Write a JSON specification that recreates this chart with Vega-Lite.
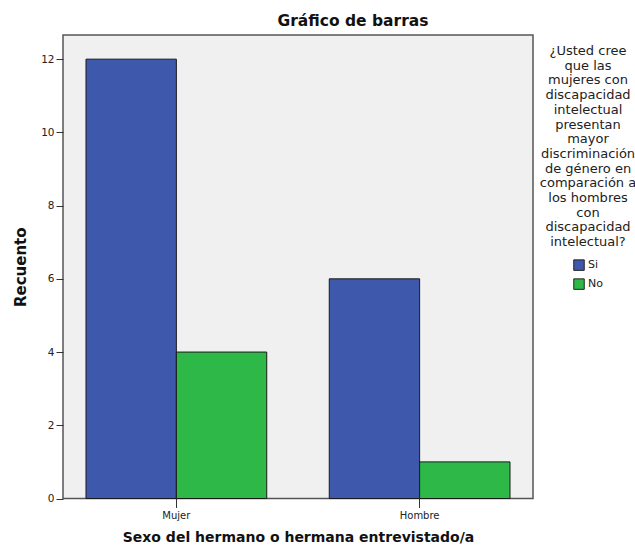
{
  "$schema": "https://vega.github.io/schema/vega-lite/v6.json",
  "autosize": "none",
  "width": 470,
  "height": 463.5,
  "padding": {"left": 63, "top": 35, "right": 102, "bottom": 49.5},
  "background": "white",
  "title": {
    "text": "Gráfico de barras",
    "fontSize": 15.5,
    "fontWeight": "bold",
    "font": "DejaVu Sans",
    "color": "#111",
    "anchor": "middle",
    "frame": "group",
    "dx": 55,
    "offset": 6
  },
  "data": {
    "values": [
      {"sexo": "Mujer", "respuesta": "Si", "recuento": 12},
      {"sexo": "Mujer", "respuesta": "No", "recuento": 4},
      {"sexo": "Hombre", "respuesta": "Si", "recuento": 6},
      {"sexo": "Hombre", "respuesta": "No", "recuento": 1}
    ]
  },
  "mark": {"type": "bar", "stroke": "#1a1a1a", "strokeWidth": 1},
  "encoding": {
    "x": {
      "field": "sexo",
      "type": "nominal",
      "sort": ["Mujer", "Hombre"],
      "scale": {"paddingInner": 0.257, "paddingOuter": 0.0945},
      "axis": {
        "title": "Sexo del hermano o hermana entrevistado/a",
        "titleFont": "DejaVu Sans",
        "titleFontSize": 14,
        "titleFontWeight": "bold",
        "titleColor": "#111",
        "titlePadding": 10,
        "labelAngle": 0,
        "labelFont": "DejaVu Sans",
        "labelFontSize": 10,
        "labelColor": "#222",
        "labelPadding": 3,
        "tickSize": 9,
        "tickColor": "#333",
        "domain": false
      }
    },
    "xOffset": {
      "field": "respuesta",
      "type": "nominal",
      "sort": ["Si", "No"],
      "scale": {"paddingInner": 0, "paddingOuter": 0}
    },
    "y": {
      "field": "recuento",
      "type": "quantitative",
      "scale": {"domain": [0, 12.66], "nice": false, "zero": true},
      "axis": {
        "title": "Recuento",
        "titleFont": "DejaVu Sans",
        "titleFontSize": 15,
        "titleFontWeight": "bold",
        "titleColor": "#111",
        "titlePadding": 12,
        "values": [0, 2, 4, 6, 8, 10, 12],
        "labelFont": "DejaVu Sans",
        "labelFontSize": 10.5,
        "labelColor": "#222",
        "labelPadding": 2,
        "tickSize": 7,
        "tickColor": "#333",
        "grid": false,
        "domain": false
      }
    },
    "color": {
      "field": "respuesta",
      "type": "nominal",
      "sort": ["Si", "No"],
      "scale": {"domain": ["Si", "No"], "range": ["#3E58AC", "#2EB848"]},
      "legend": {
        "title": ["¿Usted cree", "que las", "mujeres con", "discapacidad", "intelectual", "presentan", "mayor", "discriminación", "de género en", "comparación a", "los hombres", "con", "discapacidad", "intelectual?"],
        "titleFont": "DejaVu Sans",
        "titleFontSize": 13,
        "titleFontWeight": "normal",
        "titleColor": "#222",
        "titleLineHeight": 14.7,
        "titleAnchor": "middle",
        "titleAlign": "center",
        "titleBaseline": "top",
        "titlePadding": 10,
        "titleLimit": 300,
        "orient": "none",
        "legendX": 477,
        "legendY": 10,
        "padding": 0,
        "symbolType": "square",
        "symbolSize": 110,
        "symbolStrokeColor": "#222",
        "symbolStrokeWidth": 1,
        "labelFont": "DejaVu Sans",
        "labelFontSize": 11,
        "labelColor": "#222",
        "labelOffset": 3,
        "rowPadding": 3
      }
    }
  },
  "config": {
    "view": {"fill": "#f0f0f0", "stroke": "#555", "strokeWidth": 1.5}
  }
}
